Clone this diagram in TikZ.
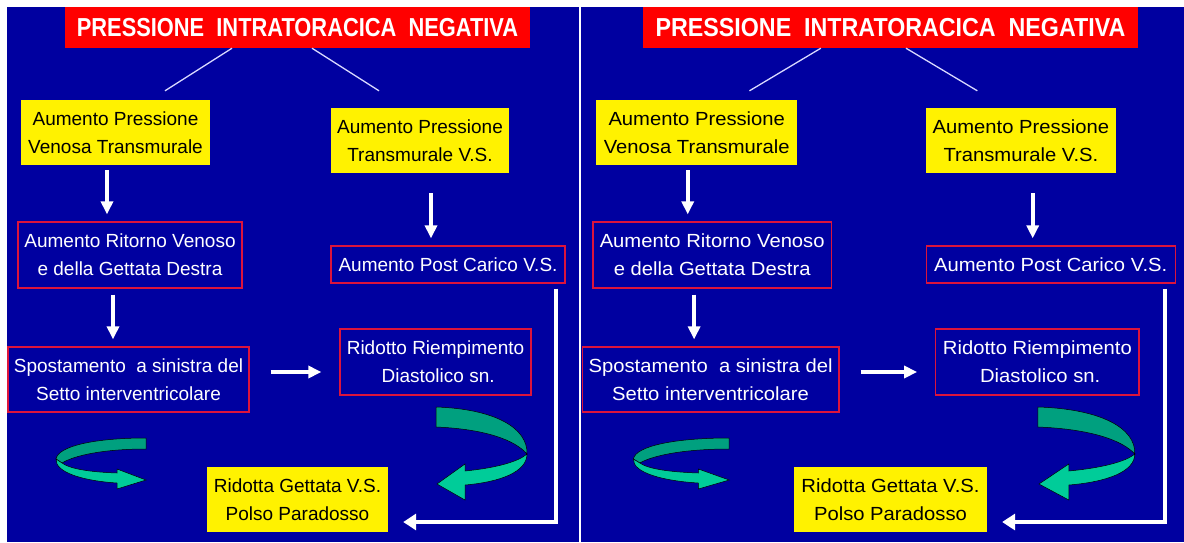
\documentclass[tikz,border=0pt]{standalone}
\usepackage{fontspec}
\setmainfont{Liberation Sans}
\usepackage{xcolor}
\definecolor{panelBlue}{HTML}{0000A0}
\definecolor{boxRed}{HTML}{DC143C}
\definecolor{ribbonDark}{HTML}{00A07F}
\definecolor{ribbonLight}{HTML}{00CC99}
\usepackage{tikz}
\usetikzlibrary{arrows.meta,positioning}
\tikzset{%
  titleBox/.style={%
    rectangle,
    fill=red,
    text=white,
    font=\fontsize{26}{30}\selectfont\bfseries,
    minimum width=465pt,
    minimum height=41pt,
    inner sep=0pt
  },
  yellowBox/.style={%
    rectangle,
    fill=yellow,
    text=black,
    font=\fontsize{19}{28}\selectfont,
    align=center,
    inner sep=0pt
  },
  redBox/.style={%
    rectangle,
    draw=boxRed,
    line width=1.3pt,
    text=white,
    font=\fontsize{19}{28}\selectfont,
    align=center,
    inner sep=0pt
  },
  thinLine/.style={%
    draw=white!85!blue,
    line width=1.3pt
  },
  whiteArrow/.style={%
    -{Triangle[length=13pt,width=12pt]},
    line width=4pt,
    draw=white
  },
  returnArrow/.style={%
    -{Triangle[length=13pt,width=16pt]},
    line width=4pt,
    draw=white
  },
  ribbonBack/.style={%
    fill=ribbonDark,
    draw=black,
    line width=0.5pt
  },
  ribbonFront/.style={%
    fill=ribbonLight,
    draw=black,
    line width=0.5pt
  }
}

\begin{document}
\begin{tikzpicture}[x=1pt,y=-1pt]
  \useasboundingbox (0,0) rectangle (1184,542);
  \fill[white] (0,0) rectangle (1184,542);
  \fill[panelBlue] (7,7) rectangle (1184,542);
  \draw[white, line width=2pt] (580,7) -- (580,542);

  % the same chart twice, the right one a little wider
  \foreach \p/\dx/\sx in {L/0/1,R/573.8/1.0645}{
  \begin{scope}[shift={(\dx,0)}, xscale=\sx, transform shape]
    \node[titleBox] (title\p) at (297.5,27.5) {\scalebox{0.84}[1]{PRESSIONE\ \ INTRATORACICA\ \ NEGATIVA}};

    \node[yellowBox, minimum width=189pt, minimum height=65pt] (yA\p) at (115.5,132.5) {Aumento Pressione\\Venosa Transmurale};
    \node[yellowBox, minimum width=178pt, minimum height=65pt] (yB\p) at (420,140.5) {Aumento Pressione\\Transmurale V.S.};

    \node[redBox, minimum width=224pt, minimum height=66pt] (rRitorno\p) at (130,255) {Aumento Ritorno Venoso\\e della Gettata Destra};
    \node[redBox, minimum width=234pt, minimum height=37pt] (rPost\p) at (448,264.5) {Aumento Post Carico V.S.};
    \node[redBox, minimum width=241pt, minimum height=65pt] (rSetto\p) at (128.5,379.5) {Spostamento\ \ a sinistra del\\Setto interventricolare};
    \node[redBox, minimum width=191pt, minimum height=66pt] (rRiemp\p) at (435.5,362) {Ridotto Riempimento\\\ Diastolico sn.};

    \node[yellowBox, minimum width=181pt, minimum height=65pt] (yGettata\p) at (297.5,499.5) {Ridotta Gettata V.S.\\Polso Paradosso};

    \draw[thinLine] ([xshift=-65.5pt]title\p.south) -- ([xshift=49.5pt,yshift=9pt]yA\p.north);
    \draw[thinLine] ([xshift=14.5pt]title\p.south) -- ([xshift=-41pt,yshift=17pt]yB\p.north);

    \draw[whiteArrow, shorten <=5pt, shorten >=7pt] ([xshift=-8.5pt]yA\p.south) -- ([xshift=-8.5pt]yA\p.south |- rRitorno\p.north);
    \draw[whiteArrow, shorten <=6pt, shorten >=7pt] ([xshift=-17pt]rRitorno\p.south) -- ([xshift=-17pt]rRitorno\p.south |- rSetto\p.north);
    \draw[whiteArrow, shorten <=20pt, shorten >=7pt] ([xshift=11pt]yB\p.south) -- ([xshift=11pt]yB\p.south |- rPost\p.north);
    \draw[whiteArrow, shorten <=21pt, shorten >=18pt] ([yshift=7.5pt]rSetto\p.east) -- ([yshift=7.5pt]rSetto\p.east -| rRiemp\p.west);
    \draw[returnArrow, shorten <=5pt, shorten >=15pt] ([xshift=-10pt]rPost\p.south east) |- ([yshift=-22.5pt]yGettata\p.east);

    % curved ribbons
    \filldraw[ribbonBack] (146,438) .. controls (95,438) and (58,446) .. (56,459) -- (62,463) .. controls (75,455) and (105,449) .. (146,449) -- cycle;
    \filldraw[ribbonFront] (56,459) .. controls (55,473) and (85,481) .. (117,483) -- (117,489) -- (146,480) -- (117,469) -- (117,473) .. controls (90,472) and (70,469) .. (62,463) -- cycle;

    \filldraw[ribbonBack] (436,407) .. controls (495,409) and (528,428) .. (527,454) .. controls (515,440) and (485,429) .. (436,427) -- cycle;
    \filldraw[ribbonFront] (527,454) .. controls (527,472) and (500,482) .. (465,485) -- (465,500) -- (437,484) -- (465,464) -- (465,471) .. controls (495,468) and (518,462) .. (527,454) -- cycle;
  \end{scope}}
\end{tikzpicture}
\end{document}
